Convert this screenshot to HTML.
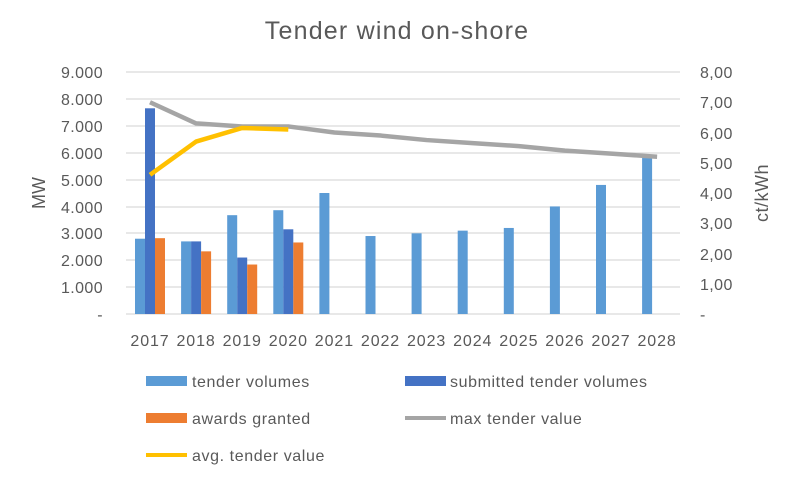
<!DOCTYPE html>
<html><head><meta charset="utf-8"><style>
body{margin:0;background:#fff;}
svg{display:block;font-family:"Liberation Sans",sans-serif;}
</style></head><body>
<svg width="794" height="477" viewBox="0 0 794 477">
<rect width="794" height="477" fill="#fff"/>
<text x="397" y="39" text-anchor="middle" font-size="25" letter-spacing="1.2" fill="#595959">Tender wind on-shore</text>
<g stroke="#d9d9d9" stroke-width="1.3">
<line x1="126" x2="680" y1="72" y2="72"/><line x1="126" x2="680" y1="99" y2="99"/><line x1="126" x2="680" y1="126" y2="126"/><line x1="126" x2="680" y1="153" y2="153"/><line x1="126" x2="680" y1="180" y2="180"/><line x1="126" x2="680" y1="207" y2="207"/><line x1="126" x2="680" y1="233" y2="233"/><line x1="126" x2="680" y1="260" y2="260"/><line x1="126" x2="680" y1="287" y2="287"/><line x1="126" x2="680" y1="314" y2="314"/>
</g>
<g font-size="16" letter-spacing="0.4" fill="#595959" text-anchor="end">
<text x="103" y="78">9.000</text><text x="103" y="105">8.000</text><text x="103" y="132">7.000</text><text x="103" y="159">6.000</text><text x="103" y="186">5.000</text><text x="103" y="213">4.000</text><text x="103" y="239">3.000</text><text x="103" y="266">2.000</text><text x="103" y="293">1.000</text><text x="103" y="320">-</text>
</g>
<g font-size="16" letter-spacing="0.4" fill="#595959" text-anchor="start">
<text x="700" y="78">8,00</text><text x="700" y="108">7,00</text><text x="700" y="139">6,00</text><text x="700" y="169">5,00</text><text x="700" y="199">4,00</text><text x="700" y="229">3,00</text><text x="700" y="260">2,00</text><text x="700" y="290">1,00</text><text x="700" y="320">-</text>
</g>
<text transform="translate(45,193) rotate(-90)" font-size="18" fill="#595959" text-anchor="middle">MW</text>
<text transform="translate(768,193) rotate(-90)" font-size="18" letter-spacing="0.5" fill="#595959" text-anchor="middle">ct/kWh</text>
<g id="bars"></g>
<g font-size="16" letter-spacing="0.9" fill="#595959" text-anchor="middle" id="xl"></g>
<polyline id="maxl" fill="none" stroke="#a5a5a5" stroke-width="4.5" stroke-linejoin="round"/>
<polyline id="avgl" fill="none" stroke="#ffc000" stroke-width="4.5" stroke-linejoin="round"/>
<g font-size="16" letter-spacing="0.6" fill="#595959">
<rect x="146" y="376" width="41" height="10" fill="#5b9bd5"/><text x="192" y="387">tender volumes</text>
<rect x="405" y="376" width="41" height="10" fill="#4472c4"/><text x="450" y="387">submitted tender volumes</text>
<rect x="146" y="413" width="41" height="10" fill="#ed7d31"/><text x="192" y="424">awards granted</text>
<rect x="405" y="416" width="41" height="4" fill="#a5a5a5"/><text x="450" y="424">max tender value</text>
<rect x="146" y="453" width="41" height="4" fill="#ffc000"/><text x="192" y="461">avg. tender value</text>
</g>
<script>
var ns="http://www.w3.org/2000/svg";
var tv=[2800,2700,3675,3860,4500,2900,3000,3100,3200,4000,4800,5800];
var sv=[7650,2700,2100,3150];var aw=[2820,2330,1840,2660];
var mx=[7.0,6.3,6.2,6.2,6.0,5.9,5.75,5.65,5.55,5.4,5.3,5.2];var av=[4.6,5.7,6.15,6.1];
function y1(v){return 314-v*242/9000;}function y2(v){return 314-v*30.25;}
var g=document.getElementById('bars'),xl=document.getElementById('xl');
function bar(x,v,c){var r=document.createElementNS(ns,'rect');r.setAttribute('x',x);r.setAttribute('y',y1(v));r.setAttribute('width',10);r.setAttribute('height',314-y1(v));r.setAttribute('fill',c);g.appendChild(r);}
var mp=[],ap=[];
for(var i=0;i<12;i++){var c=150+i*46.1;bar(c-15,tv[i],'#5b9bd5');if(i<4){bar(c-5,sv[i],'#4472c4');bar(c+5,aw[i],'#ed7d31');ap.push(c+','+y2(av[i]));}
mp.push(c+','+y2(mx[i]));
var t=document.createElementNS(ns,'text');t.setAttribute('x',c);t.setAttribute('y',346);t.textContent=2017+i;xl.appendChild(t);}
document.getElementById('maxl').setAttribute('points',mp.join(' '));
document.getElementById('avgl').setAttribute('points',ap.join(' '));
</script>
</svg>
</body></html>
